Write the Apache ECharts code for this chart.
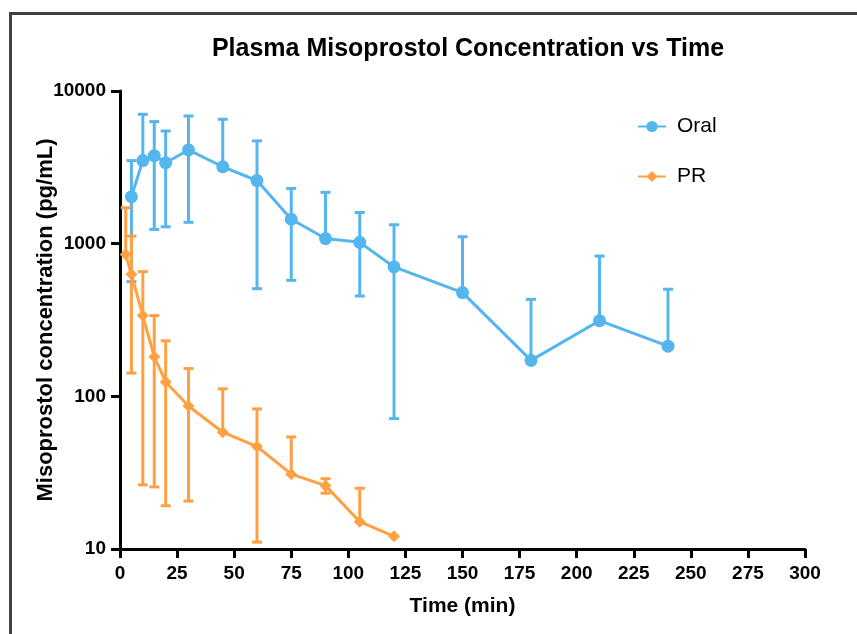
<!DOCTYPE html>
<html>
<head>
<meta charset="utf-8">
<script src="https://cdn.jsdelivr.net/npm/echarts@6/dist/echarts.min.js"></script>
<style>
  html, body { margin: 0; padding: 0; background: #fff; }
  #chart { width: 857px; height: 634px; }
</style>
</head>
<body>
<div id="chart"></div>
<script>
// Sampling times (min)
const oralTimes = [5, 10, 15, 20, 30, 45, 60, 75, 90, 105, 120, 150, 180, 210, 240];
const prTimes = [2.5, 5, 10, 15, 20, 30, 45, 60, 75, 90, 105, 120];

// Plasma misoprostol acid, pg/mL (mean, upper and lower error limits; null = limit not shown)
const oralMean = [2030, 3500, 3770, 3390, 4110, 3190, 2590, 1445, 1080, 1020, 704, 478, 172, 313, 213];
const oralUpper = [3500, 7040, 6300, 5470, 6860, 6530, 4710, 2300, 2170, 1600, 1330, 1110, 432, 830, 503];
const oralLower = [564, null, 1240, 1290, 1380, null, 507, 575, null, 454, 71.5, null, null, null, null];

const prMean = [850, 630, 338, 182, 124, 86.5, 58.2, 46.9, 30.9, 26.0, 15.1, 12.1];
const prUpper = [1720, 1120, 656, 338, 231, 152, 112, 82.7, 54.2, 28.9, 25.0, null];
const prLower = [null, 142, 26.3, 25.5, 19.2, 20.6, null, 11.1, null, 23.2, null, null];

// Axis ticks
const xTicks = [0, 25, 50, 75, 100, 125, 150, 175, 200, 225, 250, 275, 300];
const yTicks = [10, 100, 1000, 10000];

const ORAL_COLOR = '#55B6EE';
const PR_COLOR = '#FFA142';
const FONT = '"Liberation Sans", Arial, Helvetica, sans-serif';

function pairs(times, values) {
  return times.map((t, i) => [t, values[i]]);
}

// [time, low, high, hasLow, hasHigh]
function errorRows(times, mean, upper, lower) {
  const rows = [];
  times.forEach((t, i) => {
    const hasHi = upper[i] != null;
    const hasLo = lower[i] != null;
    if (!hasHi && !hasLo) return;
    rows.push([t, hasLo ? lower[i] : mean[i], hasHi ? upper[i] : mean[i], hasLo ? 1 : 0, hasHi ? 1 : 0]);
  });
  return rows;
}

function renderErrorBar(color) {
  return function (params, api) {
    const t = api.value(0);
    const lo = api.coord([t, api.value(1)]);
    const hi = api.coord([t, api.value(2)]);
    const half = 5;
    const style = { stroke: color, lineWidth: 3 };
    const children = [{
      type: 'line',
      shape: { x1: hi[0], y1: hi[1], x2: lo[0], y2: lo[1] },
      style: style
    }];
    if (api.value(4)) {
      children.push({ type: 'line', shape: { x1: hi[0] - half, y1: hi[1], x2: hi[0] + half, y2: hi[1] }, style: style });
    }
    if (api.value(3)) {
      children.push({ type: 'line', shape: { x1: lo[0] - half, y1: lo[1], x2: lo[0] + half, y2: lo[1] }, style: style });
    }
    return { type: 'group', children: children };
  };
}

const chart = echarts.init(document.getElementById('chart'), null, { renderer: 'canvas' });

const axisText = { color: '#000', fontFamily: FONT, fontWeight: 'bold', fontSize: 19 };

chart.setOption({
  animation: false,
  backgroundColor: '#fff',
  title: {
    text: 'Plasma Misoprostol Concentration vs Time',
    left: 463,
    top: 32,
    textAlign: 'center',
    textStyle: { color: '#000', fontFamily: FONT, fontWeight: 'bold', fontSize: 25 }
  },
  graphic: [
    { type: 'line', shape: { x1: 9, y1: 13.5, x2: 857, y2: 13.5 }, style: { stroke: '#404040', lineWidth: 3 } },
    { type: 'line', shape: { x1: 10.5, y1: 12, x2: 10.5, y2: 634 }, style: { stroke: '#404040', lineWidth: 3 } }
  ],
  legend: {
    data: ['Oral', 'PR'],
    orient: 'vertical',
    left: 632,
    top: 111,
    itemWidth: 28,
    itemHeight: 14,
    itemGap: 29,
    textStyle: { color: '#000', fontFamily: FONT, fontSize: 21, lineHeight: 21, padding: [0, 0, 0, 6] }
  },
  grid: { left: 120, right: 52, top: 91, bottom: 85, containLabel: false },
  xAxis: {
    type: 'value',
    min: 0,
    max: 300,
    interval: 25,
    name: 'Time (min)',
    nameLocation: 'middle',
    nameGap: 47,
    nameMoveOverlap: false,
    nameTextStyle: { color: '#000', fontFamily: FONT, fontWeight: 'bold', fontSize: 21 },
    axisLine: { lineStyle: { color: '#000', width: 3 } },
    axisTick: { show: true, inside: false, length: 9, lineStyle: { color: '#000', width: 3 } },
    axisLabel: Object.assign({ margin: 15 }, axisText),
    splitLine: { show: false }
  },
  yAxis: {
    type: 'log',
    logBase: 10,
    min: yTicks[0],
    max: yTicks[yTicks.length - 1],
    name: 'Misoprostol concentration (pg/mL)',
    nameLocation: 'middle',
    nameGap: 63,
    nameMoveOverlap: false,
    nameTextStyle: { color: '#000', fontFamily: FONT, fontWeight: 'bold', fontSize: 22 },
    axisLine: { lineStyle: { color: '#000', width: 3 } },
    axisTick: { show: true, inside: false, length: 9, lineStyle: { color: '#000', width: 3 } },
    axisLabel: Object.assign({ margin: 14, formatter: (v) => String(Math.round(v)) }, axisText),
    splitLine: { show: false }
  },
  series: [
    {
      name: 'Oral error',
      type: 'custom',
      renderItem: renderErrorBar(ORAL_COLOR),
      data: errorRows(oralTimes, oralMean, oralUpper, oralLower),
      encode: { x: 0, y: [1, 2] },
      z: 2,
      silent: true
    },
    {
      name: 'PR error',
      type: 'custom',
      renderItem: renderErrorBar(PR_COLOR),
      data: errorRows(prTimes, prMean, prUpper, prLower),
      encode: { x: 0, y: [1, 2] },
      z: 2,
      silent: true
    },
    {
      name: 'Oral',
      type: 'line',
      data: pairs(oralTimes, oralMean),
      symbol: 'circle',
      symbolSize: 13,
      color: ORAL_COLOR,
      lineStyle: { color: ORAL_COLOR, width: 3 },
      itemStyle: { color: ORAL_COLOR },
      z: 3
    },
    {
      name: 'PR',
      type: 'line',
      data: pairs(prTimes, prMean),
      symbol: 'diamond',
      symbolSize: 12,
      color: PR_COLOR,
      lineStyle: { color: PR_COLOR, width: 3 },
      itemStyle: { color: PR_COLOR },
      z: 4
    }
  ]
});
</script>
</body>
</html>
